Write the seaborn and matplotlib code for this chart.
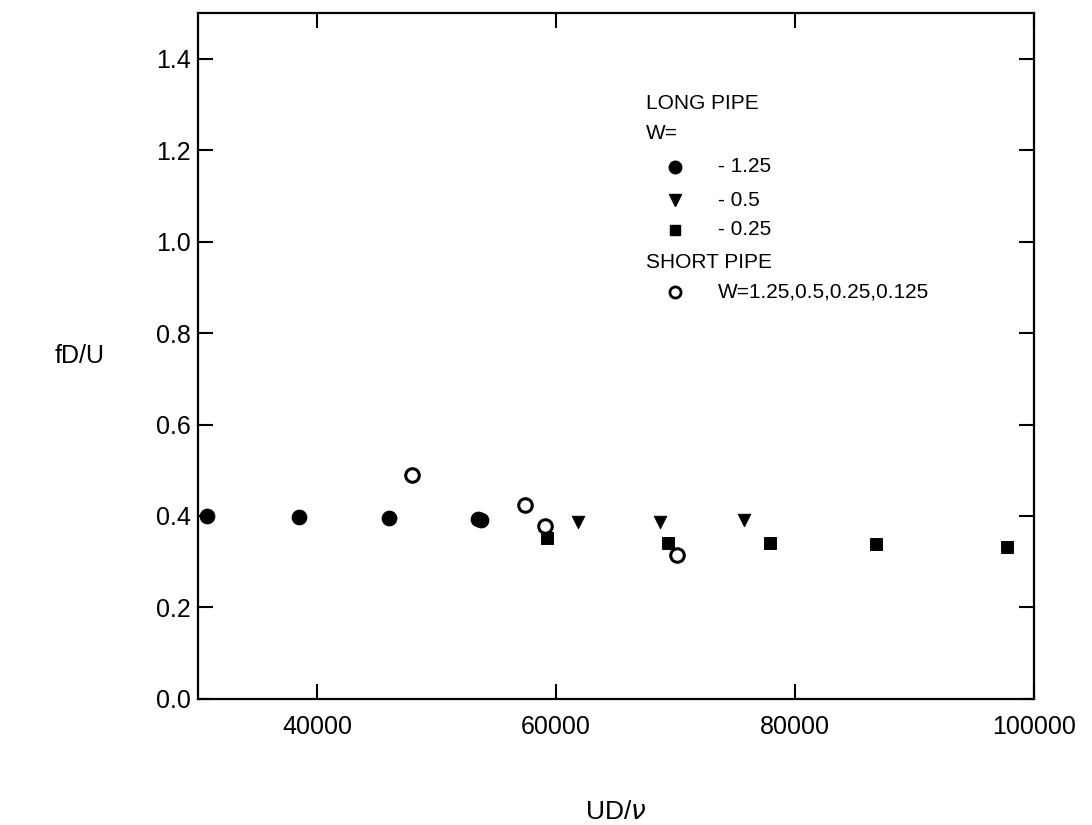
# fD/U vs UD/nu for long and short pipes

import pandas as pd
import seaborn as sns
import matplotlib.pyplot as plt

# long pipe, W = 1.25 (filled circles)
long_125_x = [30800, 38500, 46000, 53500, 53750]
long_125_y = [0.400, 0.398, 0.396, 0.393, 0.391]
# long pipe, W = 0.5 (triangles)
long_05_x = [61800, 68700, 75700]
long_05_y = [0.387, 0.387, 0.391]
# long pipe, W = 0.25 (squares)
long_025_x = [59200, 69400, 77900, 86800, 97700]
long_025_y = [0.352, 0.341, 0.341, 0.339, 0.333]
# short pipe, all W (open circles)
short_x = [47900, 57400, 59100, 70100]
short_y = [0.489, 0.424, 0.378, 0.315]

x_ticks = [40000, 60000, 80000, 100000]
y_ticks = [0.0, 0.2, 0.4, 0.6, 0.8, 1.0, 1.2, 1.4]

sns.set_style("ticks")
plt.rcParams["font.family"] = ["Liberation Sans", "DejaVu Sans"]
plt.rcParams["axes.linewidth"] = 1.6
for k in ["text.color", "axes.labelcolor", "xtick.color", "ytick.color", "axes.edgecolor"]:
    plt.rcParams[k] = "black"

fig = plt.figure(figsize=(10.92, 8.25), dpi=100)
ax = fig.add_axes([0.181, 0.153, 0.766, 0.831])

df_125 = pd.DataFrame({"x": long_125_x, "y": long_125_y})
df_05 = pd.DataFrame({"x": long_05_x, "y": long_05_y})
df_025 = pd.DataFrame({"x": long_025_x, "y": long_025_y})
df_s = pd.DataFrame({"x": short_x, "y": short_y})

sns.scatterplot(data=df_125, x="x", y="y", marker="o", s=110, color="black",
                edgecolor="black", ax=ax, zorder=3)
sns.scatterplot(data=df_05, x="x", y="y", marker="v", s=80, color="black",
                edgecolor="black", ax=ax, zorder=3)
sns.scatterplot(data=df_025, x="x", y="y", marker="s", s=70, color="black",
                edgecolor="black", ax=ax, zorder=3)
sns.scatterplot(data=df_s, x="x", y="y", marker="o", s=95, facecolor="white",
                edgecolor="black", linewidth=2.2, ax=ax, zorder=4)

ax.set_xlim(30000, 100000)
ax.set_ylim(0, 1.5)
ax.set_xticks(x_ticks)
ax.set_yticks(y_ticks)
ax.set_yticklabels([f"{v:.1f}" for v in y_ticks])
ax.tick_params(direction="in", length=11, width=1.5, labelsize=18,
               top=True, right=True)
ax.tick_params(axis="x", pad=12)
ax.tick_params(axis="y", pad=5)

ax.set_xlabel("UD/$\\nu$", fontsize=19)
ax.set_ylabel("fD/U", fontsize=18, rotation=0, ha="center", va="center")
ax.xaxis.set_label_coords(0.5, -0.147)
ax.yaxis.set_label_coords(-0.141, 0.5)

# legend drawn as text block
fs = 15
ax.text(0.536, 0.869, "LONG PIPE", transform=ax.transAxes, fontsize=fs, va="center")
ax.text(0.536, 0.825, "W=", transform=ax.transAxes, fontsize=fs, va="center")
keys = [("o", "- 1.25", 0.776, 9),
        ("v", "- 0.5", 0.727, 8),
        ("s", "- 0.25", 0.684, 7)]
for m, lab, yy, ms in keys:
    ax.plot([0.571], [yy], marker=m, ms=ms, color="black",
            transform=ax.transAxes, ls="", clip_on=False)
    ax.text(0.622, yy, lab, transform=ax.transAxes, fontsize=fs, va="center")
ax.text(0.536, 0.636, "SHORT PIPE", transform=ax.transAxes, fontsize=fs, va="center")
ax.plot([0.571], [0.593], marker="o", ms=8, color="black", mfc="white", mew=2,
        transform=ax.transAxes, ls="", clip_on=False)
ax.text(0.622, 0.593, "W=1.25,0.5,0.25,0.125", transform=ax.transAxes,
        fontsize=fs, va="center")

plt.savefig("out.png", dpi=100)
